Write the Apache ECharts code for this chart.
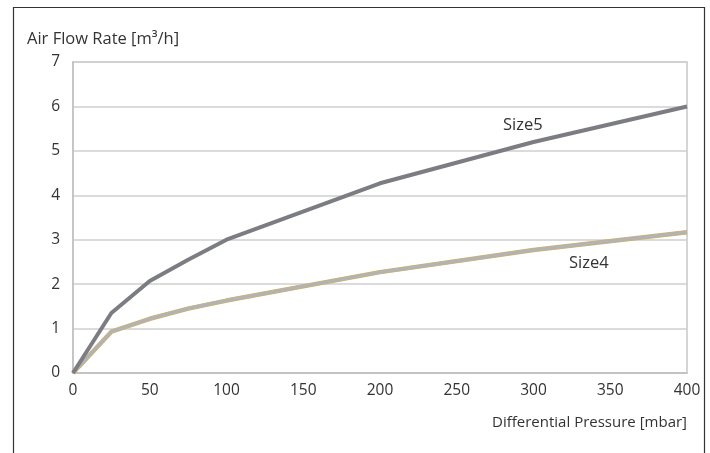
<!DOCTYPE html>
<html><head><meta charset="utf-8">
<script src="https://cdn.jsdelivr.net/npm/echarts@6/dist/echarts.min.js"></script>
<style>html,body{margin:0;padding:0;background:#fff}#c{width:710px;height:453px}</style>
</head><body><div id="c"></div>
<script>
const pressure = [0, 25, 50, 75, 100, 200, 300, 400];
const size5 = [0, 1.35, 2.07, 2.55, 3.0, 4.27, 5.2, 6.0];
const size4 = [0, 0.93, 1.22, 1.45, 1.63, 2.27, 2.77, 3.17];
const size5Label = [293, 5.58];
const size4Label = [336, 2.48];
const xTitle = 'Differential Pressure [mbar]';
const yTitle = 'Air Flow Rate [m³/h]';
const font = '"Open Sans", "Noto Sans", sans-serif';

const chart = echarts.init(document.getElementById('c'), null, {renderer: 'canvas'});
const pairs = arr => pressure.map((p, i) => [p, arr[i]]);
chart.setOption({
  animation: false,
  textStyle: {fontFamily: font},
  grid: {left: 73, right: 23, top: 62, bottom: 80, show: true, borderColor: '#c8c8c8', borderWidth: 1.5},
  xAxis: {
    type: 'value', min: 0, max: 400, interval: 50,
    axisLine: {lineStyle: {color: '#bfbfbf', width: 1.5}},
    axisTick: {show: false}, splitLine: {show: false},
    axisLabel: {color: '#333', fontSize: 15.5, margin: 10, fontFamily: font}
  },
  yAxis: {
    type: 'value', min: 0, max: 7, interval: 1,
    axisLine: {show: true, lineStyle: {color: '#bfbfbf', width: 1.5}},
    axisTick: {show: false},
    splitLine: {lineStyle: {color: '#cfcfcf', width: 1.5}},
    axisLabel: {color: '#333', fontSize: 15.5, margin: 13, fontFamily: font}
  },
  graphic: [
    {type: 'rect', left: 11, top: 5, shape: {width: 691, height: 470}, style: {fill: 'none', stroke: '#333', lineWidth: 1.2}},
    {type: 'text', left: 27, top: 31, style: {text: yTitle, fill: '#333', fontSize: 16.5, fontFamily: font}},
    {type: 'text', right: 23, top: 415, style: {text: xTitle, fill: '#333', fontSize: 15, fontFamily: font}}
  ],
  series: [
    {type: 'line', data: pairs(size4), symbol: 'none', lineStyle: {color: '#d9b44a', width: 4.5}, z: 2, silent: true},
    {type: 'line', data: pairs(size4), symbol: 'none', lineStyle: {color: '#b3b3b5', width: 3.5}, z: 3,
     markPoint: {symbol: 'circle', symbolSize: 0, data: [{coord: size4Label, label: {show: true, formatter: 'Size4', color: '#333', fontSize: 16.5, fontFamily: font, position: 'inside'}}]}},
    {type: 'line', data: pairs(size5), symbol: 'none', lineStyle: {color: '#7b7d82', width: 4}, z: 4,
     markPoint: {symbol: 'circle', symbolSize: 0, data: [{coord: size5Label, label: {show: true, formatter: 'Size5', color: '#333', fontSize: 16.5, fontFamily: font, position: 'inside'}}]}}
  ]
});
</script></body></html>
